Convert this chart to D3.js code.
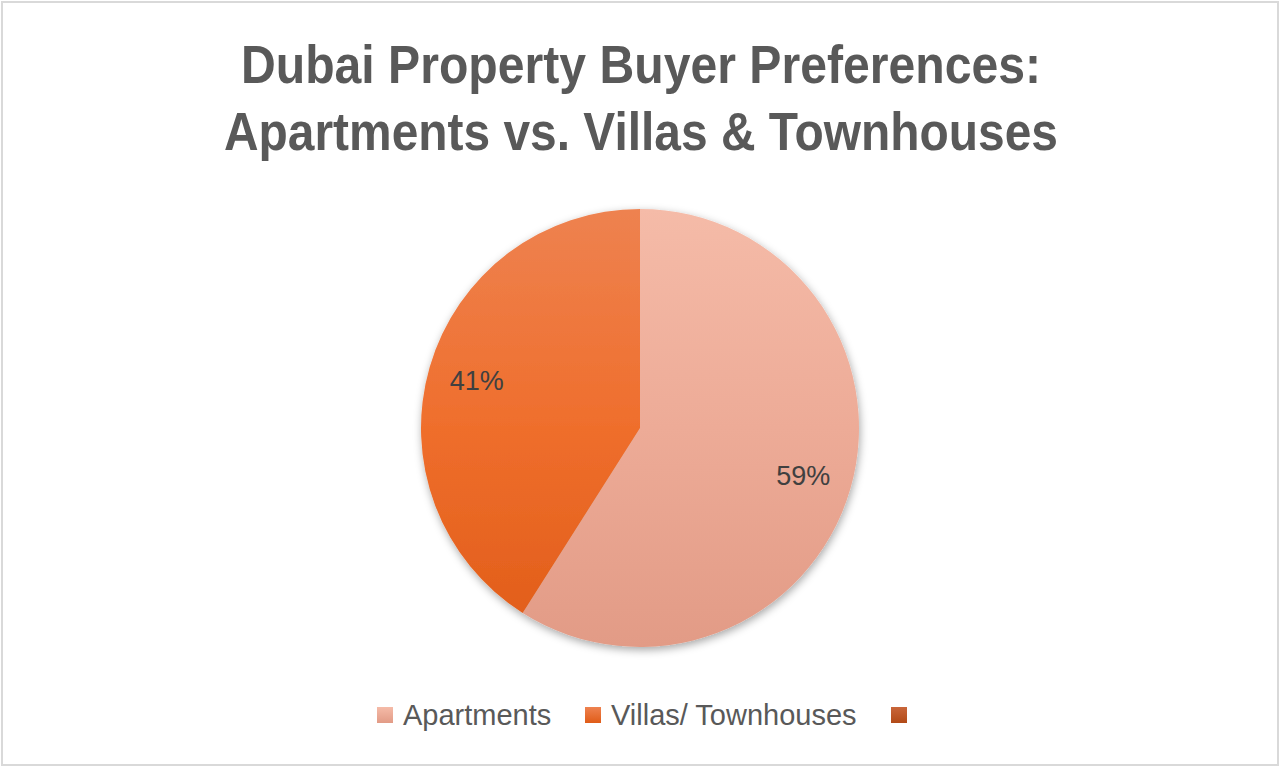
<!DOCTYPE html>
<html><head><meta charset="utf-8">
<script src="https://cdn.jsdelivr.net/npm/d3@7"></script>
<style>html,body{margin:0;padding:0;background:#fff;}svg{display:block;}</style>
</head><body>
<svg id="c" width="1280" height="768"></svg>
<script>
const titleLines = ["Dubai Property Buyer Preferences:", "Apartments vs. Villas & Townhouses"];
const categories = ["Apartments", "Villas/ Townhouses", ""];
const values = [59, 41, 0];
const labels = ["59%", "41%", ""];
const colorTop = ["#F5BBA8", "#EE8250", "#C9663A"];
const colorMid = ["#EDAB97", "#EF6E2C", "#BE5A28"];
const colorBottom = ["#E29B86", "#E05C18", "#B24A17"];

const svg = d3.select("#c");
const W = 1280, H = 768;
svg.append("rect").attr("x",2).attr("y",2).attr("width",W-4).attr("height",H-5)
  .attr("fill","#fff").attr("stroke","#D9D9D9").attr("stroke-width",2);

const defs = svg.append("defs");
const f = defs.append("filter").attr("id","sh").attr("x","-20%").attr("y","-20%").attr("width","140%").attr("height","140%");
f.append("feDropShadow").attr("dx",1).attr("dy",3).attr("stdDeviation",4).attr("flood-color","#000").attr("flood-opacity",0.35);

const cx = 640, cy = 428, R = 219;
categories.forEach((c,i)=>{
  const g = defs.append("linearGradient").attr("id","gl"+i)
    .attr("gradientUnits","userSpaceOnUse").attr("x1",0).attr("y1",-R).attr("x2",0).attr("y2",R);
  g.append("stop").attr("offset","0%").attr("stop-color",colorTop[i]);
  g.append("stop").attr("offset","50%").attr("stop-color",colorMid[i]);
  g.append("stop").attr("offset","100%").attr("stop-color",colorBottom[i]);
  const g2 = defs.append("linearGradient").attr("id","lg"+i).attr("x1",0).attr("y1",0).attr("x2",0).attr("y2",1);
  g2.append("stop").attr("offset","0%").attr("stop-color",colorTop[i]);
  g2.append("stop").attr("offset","100%").attr("stop-color",colorBottom[i]);
});

const titleWidths = [800, 834];
const t = svg.append("text").attr("text-anchor","middle")
  .attr("font-family","'Liberation Sans Narrow','Arial Narrow','Liberation Sans',sans-serif")
  .attr("font-weight","bold").attr("font-size",54).attr("fill","#595959");
titleLines.forEach((l,i)=>{
  t.append("tspan").attr("x",641).attr("y",83+i*67)
   .attr("textLength",titleWidths[i]).attr("lengthAdjust","spacingAndGlyphs").text(l);
});

const pie = d3.pie().sort(null).value(d=>d)(values);
const arc = d3.arc().innerRadius(0).outerRadius(R);
const labelArc = d3.arc().innerRadius(170).outerRadius(170);
const pg = svg.append("g").attr("transform",`translate(${cx},${cy})`);
pg.append("g").attr("filter","url(#sh)").selectAll("path").data(pie).join("path")
  .attr("d",arc).attr("fill",(d,i)=>`url(#gl${i})`);
pg.selectAll("text.lbl").data(pie.filter(d=>d.value>0)).join("text").attr("class","lbl")
  .attr("transform",d=>`translate(${labelArc.centroid(d)})`)
  .attr("text-anchor","middle").attr("dy","0.35em")
  .attr("font-family","'Liberation Sans',Arial,sans-serif").attr("font-size",27).attr("fill","#404040")
  .text(d=>labels[d.index]);

const legX = [377, 585, 891];
const lg = svg.append("g");
categories.forEach((c,i)=>{
  lg.append("rect").attr("x",legX[i]).attr("y",707).attr("width",16).attr("height",16).attr("fill",`url(#lg${i})`);
  lg.append("text").attr("x",legX[i]+26).attr("y",725)
    .attr("font-family","'Liberation Sans',Arial,sans-serif").attr("font-size",29).attr("fill","#595959").text(c);
});
</script>
</body></html>
